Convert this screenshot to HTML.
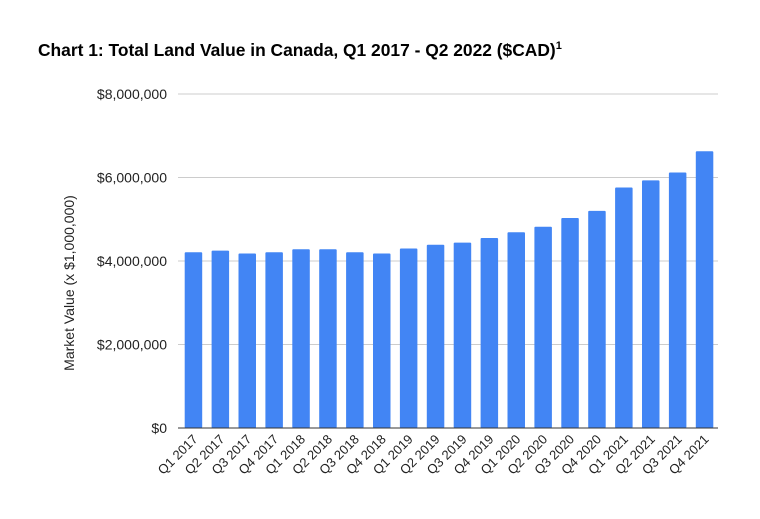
<!DOCTYPE html>
<html><head><meta charset="utf-8"><style>
body{margin:0;background:#fff;font-family:"Liberation Sans",Arial,sans-serif}
</style></head><body>
<svg width="760" height="514" xmlns="http://www.w3.org/2000/svg" font-family="Liberation Sans, Arial, sans-serif">
<rect width="760" height="514" fill="#fff"/>
<text x="38" y="56" font-size="17.4" font-weight="bold" fill="#000">Chart 1: Total Land Value in Canada, Q1 2017 - Q2 2022 ($CAD)<tspan font-size="11" dy="-7">1</tspan></text>
<text transform="translate(74,283) rotate(-90)" text-anchor="middle" font-size="14" fill="#222">Market Value (x $1,000,000)</text>
<g id="grid"></g><g id="bars"></g><g id="xl"></g>
</svg>
<script>
const categories=["Q1 2017","Q2 2017","Q3 2017","Q4 2017","Q1 2018","Q2 2018","Q3 2018","Q4 2018","Q1 2019","Q2 2019","Q3 2019","Q4 2019","Q1 2020","Q2 2020","Q3 2020","Q4 2020","Q1 2021","Q2 2021","Q3 2021","Q4 2021"];
const values=[4210000,4250000,4180000,4210000,4280000,4280000,4210000,4180000,4300000,4390000,4440000,4550000,4690000,4820000,5030000,5200000,5760000,5930000,6120000,6630000];
const ticks=[0,2000000,4000000,6000000,8000000];
const tickLabels=["$0","$2,000,000","$4,000,000","$6,000,000","$8,000,000"];
const ns="http://www.w3.org/2000/svg";
const x0=180,x1=718,y0=428,y1=94,ymax=8000000;
const y=v=>y0-(v/ymax)*(y0-y1);
const band=(x1-x0)/categories.length;
const xc=i=>x0+band*(i+0.5);
function mk(t,a,p){const e=document.createElementNS(ns,t);for(const k in a)e.setAttribute(k,a[k]);document.getElementById(p).appendChild(e);return e;}
ticks.forEach((t,i)=>{
 const l=mk('line',{x1:x0-2,x2:x1,y1:y(t),y2:y(t),stroke:i==0?'#333':'#ccc','stroke-width':1},'grid');
 
 
 const tx=mk('text',{x:167,y:y(t)+5,'text-anchor':'end','font-size':14,fill:'#222'},'grid');
 tx.textContent=tickLabels[i];
 
 
});
values.forEach((v,i)=>{
 const w=17.5;
 const r=mk('rect',{x:xc(i)-w/2,y:y(v),width:w,height:y0-y(v),fill:'#4285f4',rx:1},'bars');
 
 
 const t=mk('text',{transform:`translate(${xc(i)+5},${y0+12}) rotate(-45)`,'text-anchor':'end','font-size':13,fill:'#222'},'xl');
 t.textContent=categories[i];
 
 
});
document.getElementById('bars').parentNode.appendChild(document.getElementById('grid').firstChild);
</script>
</body></html>
